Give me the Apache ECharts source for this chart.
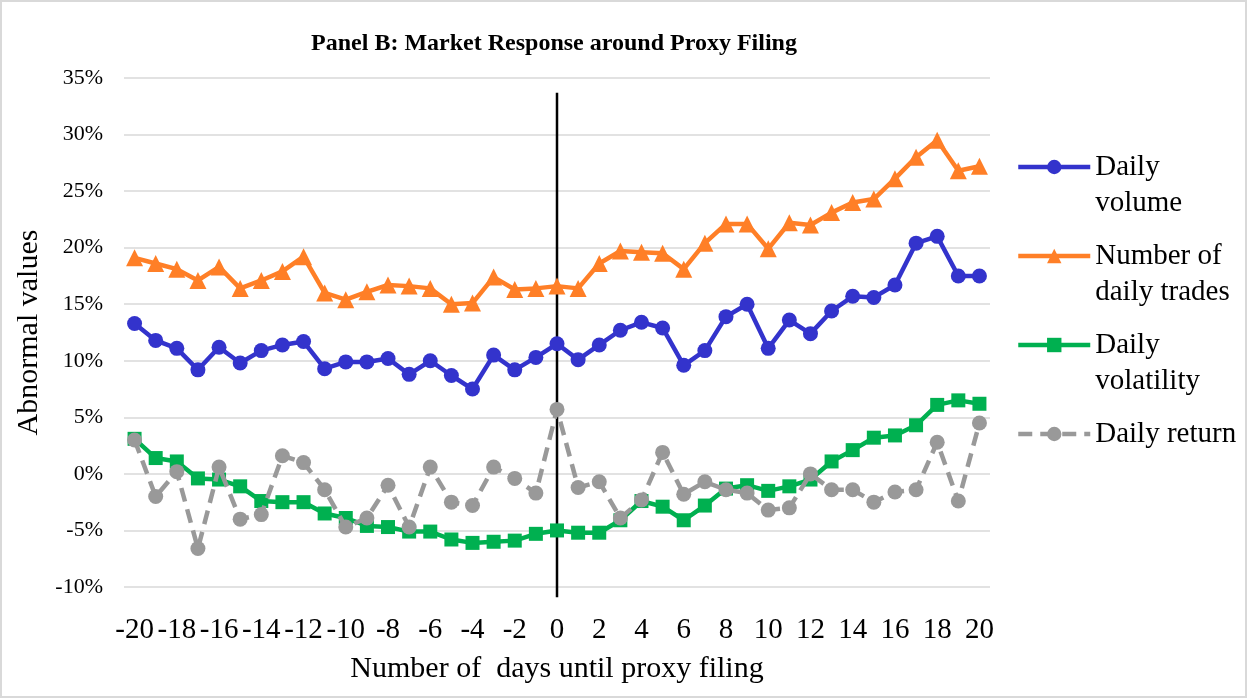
<!DOCTYPE html>
<html>
<head>
<meta charset="utf-8">
<script src="https://cdn.jsdelivr.net/npm/echarts@6/dist/echarts.min.js"></script>
<style>
  html, body { margin: 0; padding: 0; background: #fff; }
  #wrap { position: relative; width: 1247px; height: 698px; }
  #chart { width: 1247px; height: 698px; }
  #frame { position: absolute; left: 0; top: 0; width: 1247px; height: 698px; box-sizing: border-box; border: 2px solid #d9d9d9; pointer-events: none; }
</style>
</head>
<body>
<div id="wrap"><div id="chart"></div><div id="frame"></div></div>
<script>
const days = ['-20','-19','-18','-17','-16','-15','-14','-13','-12','-11','-10','-9','-8','-7','-6','-5','-4','-3','-2','-1','0',
              '1','2','3','4','5','6','7','8','9','10','11','12','13','14','15','16','17','18','19','20'];
const dailyVolume = [13.3, 11.8, 11.1, 9.2, 11.2, 9.8, 10.9, 11.4, 11.7, 9.3, 9.9, 9.9, 10.2, 8.8, 10.0, 8.7, 7.5, 10.5, 9.2, 10.3, 11.5,
                     10.1, 11.4, 12.7, 13.4, 12.9, 9.6, 10.9, 13.9, 15.0, 11.1, 13.6, 12.4, 14.4, 15.7, 15.6, 16.7, 20.4, 21.0, 17.5, 17.5];
const dailyTrades = [19.1, 18.6, 18.1, 17.1, 18.3, 16.4, 17.1, 17.9, 19.2, 16.0, 15.4, 16.1, 16.7, 16.6, 16.4, 15.0, 15.1, 17.4, 16.3, 16.4, 16.6,
                     16.4, 18.6, 19.7, 19.6, 19.5, 18.1, 20.4, 22.1, 22.1, 19.9, 22.2, 22.0, 23.1, 24.0, 24.3, 26.1, 28.0, 29.5, 26.8, 27.2];
const dailyVolatility = [3.1, 1.4, 1.1, -0.4, -0.5, -1.1, -2.4, -2.5, -2.5, -3.5, -3.9, -4.6, -4.7, -5.1, -5.1, -5.8, -6.1, -6.0, -5.9, -5.3, -5.0,
                         -5.2, -5.2, -4.1, -2.4, -2.9, -4.1, -2.8, -1.3, -1.0, -1.5, -1.1, -0.5, 1.1, 2.1, 3.2, 3.4, 4.3, 6.1, 6.5, 6.2];
const dailyReturn = [3.0, -2.0, 0.2, -6.6, 0.6, -4.0, -3.6, 1.6, 1.0, -1.4, -4.7, -3.9, -1.0, -4.7, 0.6, -2.5, -2.8, 0.6, -0.4, -1.7, 5.7,
                     -1.2, -0.7, -3.9, -2.3, 1.9, -1.8, -0.7, -1.4, -1.7, -3.2, -3.0, 0.0, -1.4, -1.4, -2.5, -1.6, -1.4, 2.8, -2.4, 4.5];
const seriesNames = ['Daily\nvolume', 'Number of\ndaily trades', 'Daily\nvolatility', 'Daily return'];
const eventLine = [['0', 33.7, -10.9]];
const yTicks = { min: -10, max: 35, step: 5 };
const titleText = 'Panel B: Market Response around Proxy Filing';
const xName = 'Number of  days until proxy filing';
const yName = 'Abnormal values';

const FONT = '"Liberation Serif", "Times New Roman", serif';
const chart = echarts.init(document.getElementById('chart'), null, { renderer: 'canvas' });

function lineSeries(name, data, color, symbol, size, extra) {
  return Object.assign({
    name: name, type: 'line', data: data,
    symbol: symbol, symbolSize: size, showAllSymbol: true,
    lineStyle: { color: color, width: 4.5 },
    itemStyle: { color: color },
    z: 3
  }, extra || {});
}

chart.setOption({
  backgroundColor: '#ffffff',
  animation: false,
  title: {
    text: titleText,
    left: 549, top: 27, textAlign: 'center',
    textStyle: { fontFamily: FONT, fontSize: 24, fontWeight: 'bold', color: '#000' }
  },
  legend: {
    orient: 'vertical',
    left: 1016, top: 113,
    padding: 0,
    itemGap: -19,
    itemWidth: 72, itemHeight: 18,
    lineStyle: { width: 4.5 },
    formatter: function (name) {
      return name.indexOf('\n') >= 0 ? ' \n' + name : ' \n' + name + '\n ';
    },
    textStyle: { fontFamily: FONT, fontSize: 29, lineHeight: 36, color: '#000' },
    data: seriesNames
  },
  grid: { left: 124, right: 257, top: 78, bottom: 111, containLabel: false },
  xAxis: {
    type: 'category',
    data: days,
    boundaryGap: true,
    name: xName,
    nameLocation: 'middle',
    nameGap: 67,
    nameTextStyle: { fontFamily: FONT, fontSize: 30, color: '#000' },
    axisLine: { show: false },
    axisTick: { show: false },
    axisLabel: { interval: 1, margin: 29, fontFamily: FONT, fontSize: 29, color: '#000' },
    splitLine: { show: false }
  },
  yAxis: {
    type: 'value',
    min: yTicks.min, max: yTicks.max, interval: yTicks.step,
    name: yName,
    nameLocation: 'middle',
    nameGap: 80,
    nameTextStyle: { fontFamily: FONT, fontSize: 30, color: '#000' },
    axisLine: { show: false },
    axisTick: { show: false },
    axisLabel: { formatter: '{value}%', margin: 21, fontFamily: FONT, fontSize: 22, color: '#000' },
    splitLine: { lineStyle: { color: '#d9d9d9', width: 1.5 } }
  },
  series: [
    lineSeries(seriesNames[0], dailyVolume, '#3333cc', 'circle', 15),
    lineSeries(seriesNames[1], dailyTrades, '#ff7f27', 'triangle', 17),
    lineSeries(seriesNames[2], dailyVolatility, '#00b050', 'rect', 14),
    {
      type: 'custom',
      data: eventLine,
      clip: false,
      silent: true,
      z: 2,
      encode: { x: 0, y: [1, 2] },
      renderItem: function (params, api) {
        const p1 = api.coord([api.value(0), api.value(1)]);
        const p2 = api.coord([api.value(0), api.value(2)]);
        return {
          type: 'line',
          shape: { x1: p1[0], y1: p1[1], x2: p2[0], y2: p2[1] },
          style: { stroke: '#000', lineWidth: 2.5 }
        };
      }
    },
    lineSeries(seriesNames[3], dailyReturn, '#999999', 'circle', 15, {
      lineStyle: { color: '#999999', width: 4.5, type: [14, 8] },
      z: 4
    })
  ]
});
</script>
</body>
</html>
